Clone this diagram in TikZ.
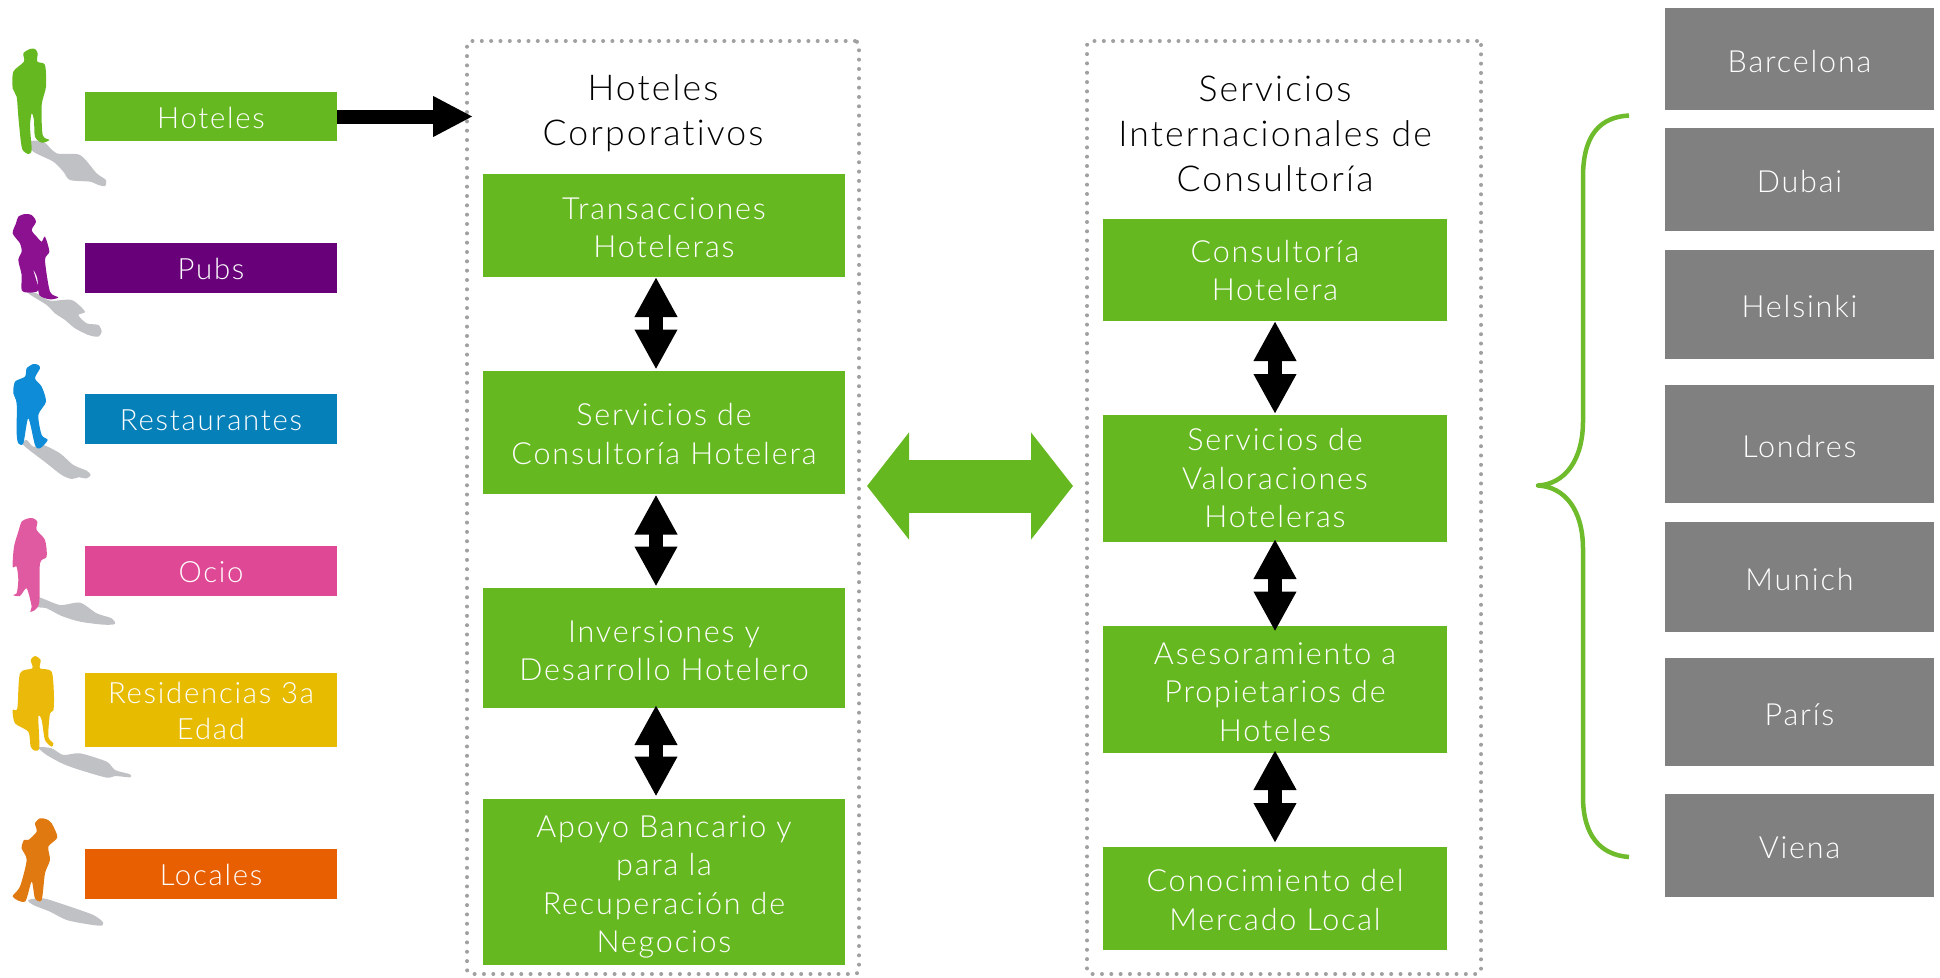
\documentclass[tikz,border=0pt]{standalone}
\usepackage{fontspec}
\setmainfont{Lato Light}[LetterSpace=6,RawFeature={-liga;-dlig;-clig}]
\usetikzlibrary{arrows.meta,calc}
\definecolor{hgreen}{HTML}{66B821}
\definecolor{hpurple}{HTML}{680079}
\definecolor{hblue}{HTML}{0680B8}
\definecolor{hpink}{HTML}{DF4895}
\definecolor{hyellow}{HTML}{E7BB00}
\definecolor{horange}{HTML}{E75F00}
\definecolor{hgray}{HTML}{808080}
\definecolor{hdot}{HTML}{A0A0A2}
\definecolor{hshadow}{HTML}{C0C1C5}
\definecolor{fpurple}{HTML}{8C1190}
\definecolor{fblue}{HTML}{0E8CD8}
\definecolor{fpink}{HTML}{DF5AA0}
\definecolor{fyellow}{HTML}{EBB90A}
\definecolor{forange}{HTML}{E07A10}
\tikzset{
 tbox/.style={inner sep=0pt,outer sep=0pt},
 tlabel/.style={inner sep=0pt,align=center,text=white,font=\fontsize{30.5}{38.5}\selectfont},
 slabel/.style={tlabel,font=\fontsize{29.3}{35.5}\selectfont},
 panel/.style={draw=hdot,line width=4pt,line cap=round,dash pattern=on 0pt off 9.33pt,rounded corners=4pt,inner sep=0pt,outer sep=0pt},
 ptitle/.style={inner sep=0pt,align=center,text=black,font=\fontsize{35.6}{45}\selectfont},
 twohead/.style={black,line width=13.4pt,{Triangle[length=40pt,width=40pt]}-{Triangle[length=40pt,width=40pt]}},
 figure/.style={scale=1/3},
}
\newcommand\bx[7][-2.5pt]{\node[tbox,fill=#7,minimum width={#5-#3},minimum height={#6-#4}] (#2) at ({(#3+#5)/2},{(#4+#6)/2}) {};
 \bxlabel{#2}{#1}}
\newcommand\bxlabel[3]{\node[tlabel,yshift=#2] (#1t) at (#1) {#3};}
\newcommand\lx[7][-1pt]{\node[tbox,fill=#7,minimum width={#5-#3},minimum height={#6-#4}] (#2) at ({(#3+#5)/2},{(#4+#6)/2}) {};
 \lxlabel{#2}{#1}}
\newcommand\lxlabel[3]{\node[slabel,yshift=#2] (#1t) at (#1) {#3};}
\newcommand\sil[2]{\fill[#1] plot[smooth cycle,tension=.45] coordinates {#2};}
\begin{document}
\begin{tikzpicture}[x=1pt,y=-1pt]
\useasboundingbox (0,0) rectangle (1940,977);
% silhouettes
\begin{scope}[figure,shift={(0,90)}]
\sil{hshadow}{(85,335)(130,335)(170,370)(240,375)(290,430)(318,450)(315,468)(295,465)(270,455)(210,450)(190,425)(160,395)(100,365)}
\sil{hgreen}{(90,57)(70,70)(72,95)(40,125)(38,175)(50,200)(55,260)(62,330)(68,360)(85,372)(95,360)(90,290)(95,250)(102,270)(105,320)(125,338)(148,330)(128,315)(125,225)(138,170)(135,105)(112,95)(113,70)(105,57)}
\sil{hshadow}{(85,790)(110,790)(150,812)(215,810)(255,845)(235,855)(260,880)(295,885)(305,905)(295,920)(265,915)(225,895)(195,870)(165,850)(140,825)}
\sil{fpurple}{(75,552)(55,560)(48,580)(38,610)(60,640)(65,665)(55,690)(65,735)(65,780)(85,788)(115,780)(100,720)(112,745)(118,795)(150,808)(175,802)(150,785)(135,690)(148,665)(135,620)(125,635)(110,620)(95,600)(108,575)(95,555)}
\end{scope}
\begin{scope}[figure,shift={(0,1050)}]
\sil{hshadow}{(80,270)(100,290)(130,285)(180,310)(220,345)(260,362)(272,375)(260,385)(235,382)(215,387)(185,375)(140,340)(70,285)}
\sil{fblue}{(100,42)(80,55)(75,80)(45,95)(40,130)(50,160)(50,250)(55,280)(70,280)(85,205)(105,285)(120,295)(143,270)(125,255)(115,195)(138,155)(125,110)(105,85)(120,55)(115,45)}
\sil{hshadow}{(115,742)(180,765)(240,758)(290,790)(335,805)(345,822)(310,824)(240,815)(185,798)(140,775)(110,770)}
\sil{fpink}{(85,505)(65,515)(55,545)(42,590)(38,650)(50,650)(55,690)(50,730)(38,735)(60,738)(80,715)(95,770)(90,785)(105,780)(118,755)(120,640)(140,620)(135,570)(110,540)(112,515)(100,505)}
\end{scope}
\begin{scope}[figure,shift={(0,1920)}]
\sil{hshadow}{(115,322)(155,325)(190,345)(240,340)(320,365)(345,390)(390,403)(390,412)(345,408)(320,413)(240,390)(190,372)(140,345)}
\sil{fyellow}{(105,48)(92,60)(97,85)(60,100)(52,205)(38,210)(45,250)(85,275)(92,320)(105,332)(118,322)(115,230)(125,240)(135,300)(155,320)(160,310)(145,290)(150,220)(160,212)(162,170)(155,95)(120,85)(122,60)}
\sil{hshadow}{(85,780)(130,775)(180,790)(225,805)(280,825)(308,845)(305,857)(265,853)(200,840)(150,815)(100,795)}
\sil{forange}{(120,535)(105,550)(110,575)(85,600)(72,600)(65,625)(80,660)(60,740)(38,770)(75,785)(95,725)(105,775)(125,780)(135,700)(150,660)(145,620)(172,592)(155,550)(140,538)}
\end{scope}
% left labels
\lx{hoteles}{85}{92}{337}{141}{hgreen}{Hoteles}
\lx{pubs}{85}{243}{337}{293}{hpurple}{Pubs}
\lx{rest}{85}{394}{337}{444}{hblue}{Restaurantes}
\lx{ocio}{85}{546}{337}{596}{hpink}{Ocio}
\lx{resid}{85}{673}{337}{747}{hyellow}{Residencias 3a\\Edad}
\lx{locales}{85}{849}{337}{899}{horange}{Locales}
% panels
\node[panel,minimum width=392pt,minimum height=933pt] (p1) at (663,507.5) {};
\node[panel,minimum width=394pt,minimum height=933pt] (p2) at (1284,507.5) {};
\node[ptitle] (t1) at (653,113) {Hoteles\\Corporativos};
\node[ptitle] (t2) at (1275,133.5) {Servicios\\Internacionales de\\Consultoría};
% panel 1 boxes
\bx[-2pt]{a1}{483}{174}{845}{277}{hgreen}{Transacciones\\Hoteleras}
\bx[-1.5pt]{a2}{483}{371}{845}{494}{hgreen}{Servicios de\\Consultoría Hotelera}
\bx{a3}{483}{588}{845}{708}{hgreen}{Inversiones y\\Desarrollo Hotelero}
\bx[-5pt]{a4}{483}{799}{845}{965}{hgreen}{Apoyo Bancario y\\para la\\Recuperación de\\Negocios}
% panel 2 boxes
\bx[-0.5pt]{b1}{1103}{219}{1447}{321}{hgreen}{Consultoría\\Hotelera}
\bx[0pt]{b2}{1103}{415}{1447}{542}{hgreen}{Servicios de\\Valoraciones\\Hoteleras}
\bx{b3}{1103}{626}{1447}{753}{hgreen}{Asesoramiento a\\Propietarios de\\Hoteles}
\bx[-1.5pt]{b4}{1103}{847}{1447}{950}{hgreen}{Conocimiento del\\Mercado Local}
% cities
\bx{c1}{1665}{8}{1934}{110}{hgray}{Barcelona}
\bx{c2}{1665}{128}{1934}{231}{hgray}{Dubai}
\bx{c3}{1665}{250}{1934}{359}{hgray}{Helsinki}
\bx{c4}{1665}{385}{1934}{503}{hgray}{Londres}
\bx{c5}{1665}{522}{1934}{632}{hgray}{Munich}
\bx{c6}{1665}{658}{1934}{766}{hgray}{París}
\bx{c7}{1665}{794}{1934}{897}{hgray}{Viena}
% connectors
\coordinate (htip) at (473,116.5);
\draw[black,line width=14pt,-{Triangle[length=40pt,width=38pt]}] (hoteles.east) -- (htip);
\draw[twohead,shorten <=0pt,shorten >=1.5pt] ([xshift=-8pt]a1.south) -- ([xshift=-8pt]a2.north);
\draw[twohead,shorten <=0.5pt,shorten >=1.5pt] ([xshift=-8pt]a2.south) -- ([xshift=-8pt]a3.north);
\draw[twohead,shorten <=-3pt,shorten >=2.5pt] ([xshift=-8pt]a3.south) -- ([xshift=-8pt]a4.north);
\draw[twohead,shorten <=0pt,shorten >=1pt] ([xshift=0pt]b1.south) -- ([xshift=0pt]b2.north);
\draw[twohead,shorten <=-3pt,shorten >=-5.5pt] ([xshift=0pt]b2.south) -- ([xshift=0pt]b3.north);
\draw[twohead,shorten <=-3pt,shorten >=4pt] ([xshift=0pt]b3.south) -- ([xshift=0pt]b4.north);
\coordinate (gl) at (867,486);
\coordinate (gr) at (1073,486);
\draw[hgreen,line width=53pt,{Triangle[length=42pt,width=105pt]}-{Triangle[length=42pt,width=105pt]}] (gl) -- (gr);
% brace
\draw[hgreen!95!white,line width=4.5pt,line join=round] (1629,115.5) .. controls (1600,117) and (1583,135) .. (1583,177) -- (1583,421) .. controls (1583,460) and (1565,484) .. (1538,485.5) .. controls (1565,487) and (1583,510) .. (1583,549) -- (1583,797) .. controls (1583,835) and (1600,855) .. (1629,857);
\end{tikzpicture}
\end{document}
